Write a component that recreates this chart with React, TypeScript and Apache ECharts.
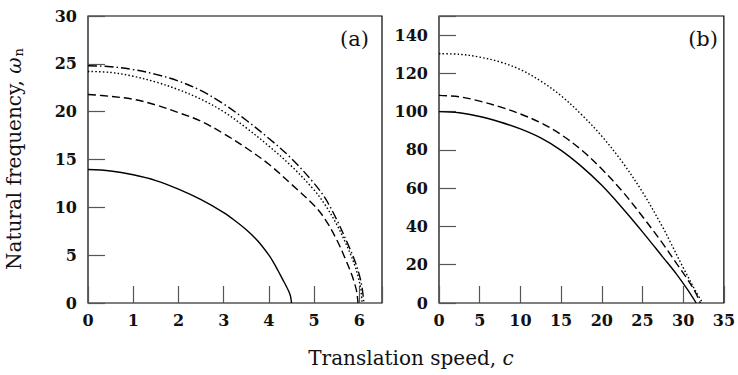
import React, { useEffect, useRef } from "react";
import * as echarts from "echarts";

// Panel (a) curves: translation speed c and natural frequency
const cA_solid = [0, 0.5, 1.0, 1.5, 2.0, 2.5, 3.0, 3.25, 3.5, 3.75, 4.0, 4.1, 4.2, 4.3, 4.4, 4.45, 4.48, 4.5];
const wA_solid = [13.95, 13.8, 13.4, 12.8, 11.9, 10.8, 9.45, 8.6, 7.65, 6.5, 5.0, 4.25, 3.4, 2.5, 1.6, 1.1, 0.65, 0];

const cA_dashed = [0, 0.5, 1.0, 1.5, 2.0, 2.5, 3.0, 3.5, 4.0, 4.5, 5.0, 5.25, 5.5, 5.7, 5.82, 5.9, 5.94, 5.97];
const wA_dashed = [21.8, 21.6, 21.3, 20.7, 19.9, 19.0, 17.7, 16.2, 14.5, 12.4, 10.2, 8.7, 6.6, 4.5, 3.1, 1.95, 1.2, 0];

const cA_dotted = [0, 0.5, 1.0, 1.5, 2.0, 2.5, 3.0, 3.5, 4.0, 4.5, 5.0, 5.25, 5.5, 5.75, 5.9, 5.98, 6.03, 6.06];
const wA_dotted = [24.2, 24.1, 23.7, 23.1, 22.3, 21.3, 20.0, 18.3, 16.4, 14.3, 11.8, 10.2, 8.2, 5.7, 3.9, 2.6, 1.5, 0];

const cA_dashdot = [0, 0.5, 1.0, 1.5, 2.0, 2.5, 3.0, 3.5, 4.0, 4.5, 5.0, 5.25, 5.5, 5.75, 5.9, 6.0, 6.06, 6.1];
const wA_dashdot = [24.8, 24.7, 24.4, 23.9, 23.2, 22.2, 20.8, 19.1, 17.2, 15.1, 12.5, 10.9, 8.7, 6.1, 4.4, 2.9, 1.6, 0];

// Panel (b) curves
const cB_solid = [0, 2.5, 5, 7.5, 10, 12.5, 15, 17.5, 20, 22.5, 25, 27.5, 29.2, 30.5, 31.6];
const wB_solid = [100, 99.4, 97.5, 94.6, 91, 86.3, 79.8, 71.4, 61.5, 49.8, 37.2, 24, 15, 7.2, 0];

const cB_dashed = [0, 2.5, 5, 7.5, 10, 12.5, 15, 17.5, 20, 22.5, 25, 27.5, 29.2, 30.5, 31.5, 32.1];
const wB_dashed = [108.5, 107.8, 105.5, 102.5, 98.8, 94.2, 88, 80, 70, 58.5, 45.2, 31, 20.6, 12.6, 5.6, 0];

const cB_dotted = [0, 2.5, 5, 7.5, 10, 12.5, 15, 17.5, 20, 22.5, 25, 27.5, 28.4, 30, 31.5, 32.4];
const wB_dotted = [130.3, 130, 128.5, 126, 122, 116, 108.3, 98.5, 87.2, 73.8, 58, 39.5, 32, 18.5, 6.5, 0];

// Tick labels / axis ranges
const xTicksA = [0, 1, 2, 3, 4, 5, 6];
const yTicksA = [0, 5, 10, 15, 20, 25, 30];
const xTicksB = [0, 5, 10, 15, 20, 25, 30, 35];
const yTicksB = [0, 20, 40, 60, 80, 100, 120, 140];

const pairs = (xs: number[], ys: number[]) => xs.map((x, i) => [x, ys[i]]);

const FONT = "DejaVu Serif";

export default function App() {
  const ref = useRef<HTMLDivElement>(null);
  useEffect(() => {
    document.body.style.margin = "0";
    if (!ref.current) return;
    const chart = echarts.init(ref.current, undefined, { renderer: "svg" });

    const tickStyle = { show: true, inside: true, length: 17, lineStyle: { color: "#555", width: 1.2 } };
    const labelStyle = { color: "#111", fontFamily: FONT, fontSize: 16, fontWeight: "bold" };

    const mkX = (gi: number, max: number, interval: number, ticks: number[]) => ({
      type: "value",
      gridIndex: gi,
      min: 0,
      max,
      interval,
      axisLine: { show: false },
      axisTick: tickStyle,
      splitLine: { show: false },
      axisLabel: {
        ...labelStyle,
        margin: 9,
        formatter: (v: number) => (ticks.indexOf(v) >= 0 ? String(v) : ""),
      },
    });
    const mkY = (gi: number, max: number, interval: number, ticks: number[]) => ({
      type: "value",
      gridIndex: gi,
      min: 0,
      max,
      interval,
      axisLine: { show: false },
      axisTick: tickStyle,
      splitLine: { show: false },
      axisLabel: {
        ...labelStyle,
        margin: 11,
        formatter: (v: number) => (ticks.indexOf(v) >= 0 ? String(v) : ""),
      },
    });

    const line = (gi: number, data: number[][], type: any, name: string) => ({
      type: "line",
      name,
      xAxisIndex: gi,
      yAxisIndex: gi,
      data,
      showSymbol: false,
      smooth: 0.35,
      lineStyle: { color: "#000", width: 1.4, type },
    });

    chart.setOption({
      animation: false,
      backgroundColor: "#fff",
      grid: [
        { left: 88, top: 16, width: 294, height: 287, show: true, borderColor: "#000", borderWidth: 1.2 },
        { left: 439, top: 16, width: 289, height: 287, show: true, borderColor: "#000", borderWidth: 1.2 },
      ],
      xAxis: [mkX(0, 6.5, 1, xTicksA), mkX(1, 35, 5, xTicksB)],
      yAxis: [mkY(0, 30, 5, yTicksA), mkY(1, 150, 20, yTicksB)],
      series: [
        line(0, pairs(cA_solid, wA_solid), "solid", "a-solid"),
        line(0, pairs(cA_dashed, wA_dashed), [8, 4], "a-dashed"),
        line(0, pairs(cA_dotted, wA_dotted), [1.5, 2.2], "a-dotted"),
        line(0, pairs(cA_dashdot, wA_dashdot), [9, 3, 1.5, 3], "a-dashdot"),
        line(1, pairs(cB_solid, wB_solid), "solid", "b-solid"),
        line(1, pairs(cB_dashed, wB_dashed), [8, 4], "b-dashed"),
        line(1, pairs(cB_dotted, wB_dotted), [1.5, 2.2], "b-dotted"),
      ],
      graphic: [
        {
          type: "text",
          x: 369,
          y: 28,
          style: { text: "(a)", font: `21px '${FONT}'`, fill: "#111", textAlign: "right", textVerticalAlign: "top" },
        },
        {
          type: "text",
          x: 718,
          y: 28,
          style: { text: "(b)", font: `21px '${FONT}'`, fill: "#111", textAlign: "right", textVerticalAlign: "top" },
        },
        {
          type: "text",
          x: 411,
          y: 358,
          style: {
            text: "Translation speed, {i|c}",
            fontFamily: FONT,
            fontSize: 20,
            fill: "#111",
            align: "center",
            verticalAlign: "middle",
            rich: { i: { fontFamily: FONT, fontSize: 20, fontStyle: "italic", fill: "#111" } },
          },
        },
        {
          type: "text",
          x: 14,
          y: 159,
          rotation: Math.PI / 2,
          style: {
            text: "Natural frequency, {i|ω}{s|n}",
            fontFamily: FONT,
            fontSize: 20,
            fill: "#111",
            align: "center",
            verticalAlign: "middle",
            rich: {
              i: { fontFamily: FONT, fontSize: 20, fontStyle: "italic", fill: "#111" },
              s: { fontFamily: FONT, fontSize: 13, fill: "#111", padding: [9, 0, 0, 1] },
            },
          },
        },
      ],
    });
    return () => chart.dispose();
  }, []);
  return <div ref={ref} style={{ width: 738, height: 375 }} />;
}
